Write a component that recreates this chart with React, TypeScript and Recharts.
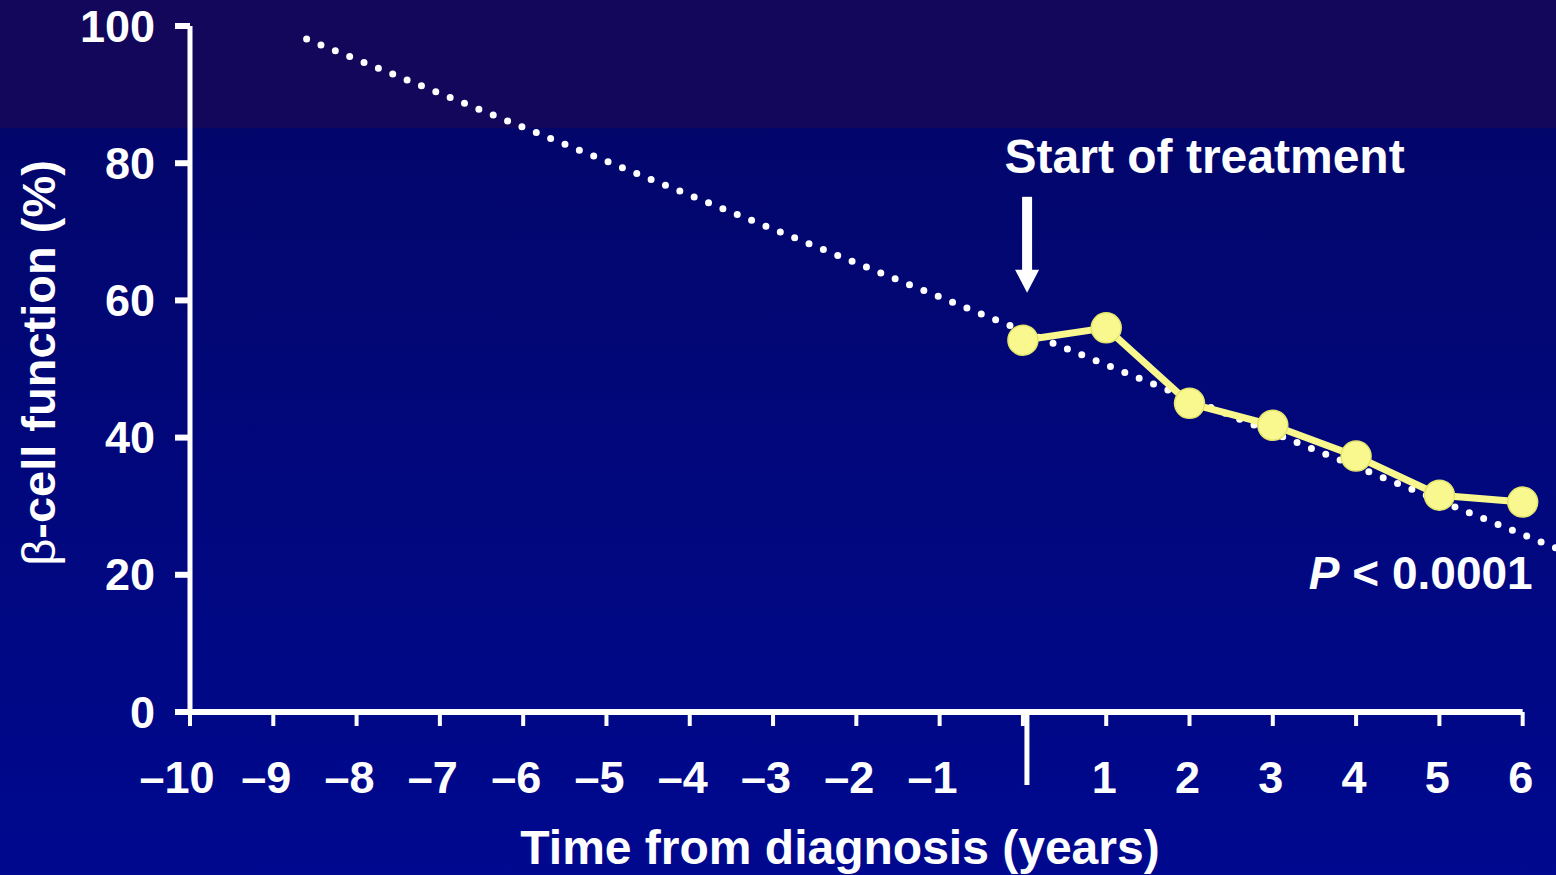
import React from 'react'
import {
  ComposedChart,
  Line,
  XAxis,
  YAxis,
  ReferenceLine,
  ReferenceDot,
} from 'recharts'

// years after diagnosis (treatment starts at 0)
const YEARS = [0, 1, 2, 3, 4, 5, 6]
// beta-cell function (%) measured each year
const BETA_FUNCTION = [54.2, 56.0, 45.0, 41.8, 37.3, 31.6, 30.6]
// extrapolated trend, end points
const TREND_X = [-8.6, 6.4]
const TREND_Y = [98.1, 23.9]

const X_TICKS = [-10, -9, -8, -7, -6, -5, -4, -3, -2, -1, 0, 1, 2, 3, 4, 5, 6]
const Y_TICKS = [0, 20, 40, 60, 80, 100]

const measured = YEARS.map((x, i) => ({ x, y: BETA_FUNCTION[i] }))
const trend = TREND_X.map((x, i) => ({ x, y: TREND_Y[i] }))

const FONT = '"Liberation Sans", Arial, sans-serif'
const WHITE = '#ffffff'
const YELLOW = '#f8f88e'

function XTick({ x, y, payload }: { x: number; y: number; payload: { value: number } }) {
  const v = payload.value
  if (v === 0) {
    // long mark at time of diagnosis, no label
    return <line x1={x + 4} x2={x + 4} y1={y - 13} y2={y + 57} stroke={WHITE} strokeWidth={5} />
  }
  const label = v < 0 ? `\u2013${Math.abs(v)}` : String(v)
  // the dash makes negative labels sit a little left of their tick
  const shift = v === -10 ? -13 : v < 0 ? -7 : -2
  return (
    <text x={x + shift} y={y + 65} textAnchor="middle" fill={WHITE} fontFamily={FONT} fontWeight="bold" fontSize={45}>
      {label}
    </text>
  )
}

function YTick({ x, y, payload }: { x: number; y: number; payload: { value: number } }) {
  return (
    <text x={x} y={y} textAnchor="end" dominantBaseline="central" fill={WHITE} fontFamily={FONT} fontWeight="bold" fontSize={45}>
      {payload.value}
    </text>
  )
}

export default function App() {
  return (
    <div
      style={{
        position: 'fixed',
        left: 0,
        top: 0,
        width: 1556,
        height: 875,
        background:
          'linear-gradient(to bottom, #12075a 0px, #12075a 128px, #02066b 128px, #00098f 875px)',
      }}
    >
      <ComposedChart
        width={1556}
        height={875}
        margin={{ top: 26, right: 0, bottom: 0, left: 0 }}
        style={{ fontFamily: FONT }}
      >
        <XAxis
          dataKey="x"
          type="number"
          domain={[-10, 6.4]}
          ticks={X_TICKS}
          allowDataOverflow
          height={163}
          axisLine={false}
          tickLine={{ stroke: WHITE, strokeWidth: 4 }}
          tickSize={14}
          tickMargin={2}
          interval={0}
          tick={XTick}
          label={{
            content: () => (
              <text x={840} y={864} textAnchor="middle" fill={WHITE} fontFamily={FONT} fontWeight="bold" fontSize={48}>
                Time from diagnosis (years)
              </text>
            ),
          }}
        />
        <YAxis
          type="number"
          domain={[0, 100]}
          ticks={Y_TICKS}
          width={190}
          axisLine={{ stroke: WHITE, strokeWidth: 5 }}
          tickLine={{ stroke: WHITE, strokeWidth: 6 }}
          tickSize={15}
          tickMargin={20}
          interval={0}
          tick={YTick}
          label={{
            content: () => (
              <text
                x={38}
                y={363}
                transform="rotate(-90 38 363)"
                textAnchor="middle"
                dominantBaseline="central"
                fill={WHITE}
                fontFamily={FONT}
                fontWeight="bold"
                fontSize={47}
              >
                <tspan fontWeight="normal">β</tspan>-cell function (%)
              </text>
            ),
          }}
        />

        {/* x axis line stops at year 6 */}
        <ReferenceLine
          segment={[{ x: -10, y: 0 }, { x: 6, y: 0 }]}
          stroke={WHITE}
          strokeWidth={6}
          ifOverflow="visible"
        />

        <Line
          data={trend}
          dataKey="y"
          type="linear"
          stroke={WHITE}
          strokeWidth={7}
          strokeDasharray="0 15.5"
          strokeLinecap="round"
          dot={false}
          activeDot={false}
          isAnimationActive={false}
        />
        <Line
          data={measured}
          dataKey="y"
          type="linear"
          stroke={YELLOW}
          strokeWidth={7}
          dot={{ r: 15, fill: YELLOW, stroke: '#e4e46c', strokeWidth: 1.5 }}
          activeDot={false}
          isAnimationActive={false}
        />

        {/* Start of treatment arrow */}
        <ReferenceLine
          segment={[{ x: 0.05, y: 75.1 }, { x: 0.05, y: 64.0 }]}
          stroke={WHITE}
          strokeWidth={10}
          ifOverflow="visible"
        />
        <ReferenceDot
          x={0.05}
          y={61.1}
          ifOverflow="visible"
          shape={(p: { cx: number; cy: number }) => (
            <path d={`M${p.cx - 12},${p.cy - 23} L${p.cx + 12},${p.cy - 23} L${p.cx},${p.cy} Z`} fill={WHITE} />
          )}
        />
        <ReferenceDot
          x={-0.22}
          y={78.6}
          ifOverflow="visible"
          shape={(p: { cx: number; cy: number }) => (
            <text x={p.cx} y={p.cy} fill={WHITE} fontFamily={FONT} fontWeight="bold" fontSize={48}>
              Start of treatment
            </text>
          )}
        />
        <ReferenceDot
          x={6.12}
          y={17.9}
          ifOverflow="visible"
          shape={(p: { cx: number; cy: number }) => (
            <text x={p.cx} y={p.cy} textAnchor="end" fill={WHITE} fontFamily={FONT} fontWeight="bold" fontSize={46}>
              <tspan fontStyle="italic">P</tspan> &lt; 0.0001
            </text>
          )}
        />
      </ComposedChart>
    </div>
  )
}
